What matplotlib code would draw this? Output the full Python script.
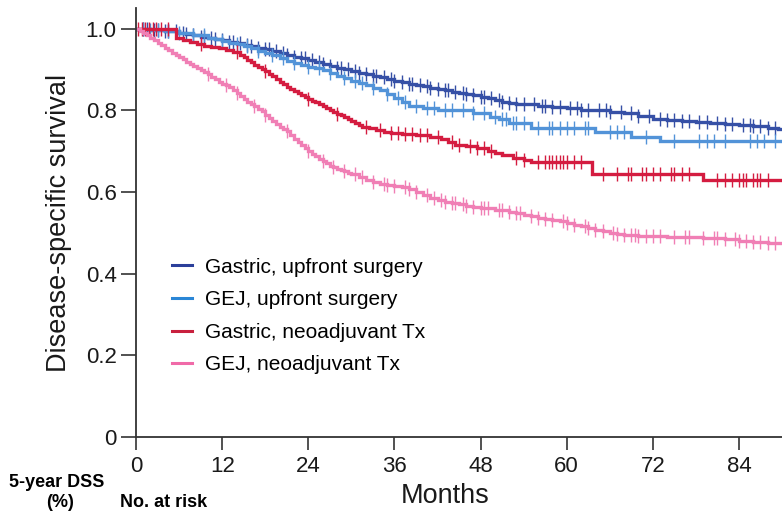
import numpy as np
import matplotlib.pyplot as plt

plt.rcParams['font.family'] = ['Liberation Sans', 'DejaVu Sans']

# step points (months, survival)
gas_up_t = [0, 2, 4, 6, 7, 8, 9, 10, 11, 12, 13, 14, 15, 16, 17, 18, 19, 20, 21, 22,
            23, 24, 25, 26, 27, 28, 29, 30, 31, 32, 33, 34, 35, 36, 37, 38, 39, 40, 41,
            42, 43, 44, 45, 46, 47, 48, 49, 50, 51, 52, 53, 54, 56, 58, 60, 62, 64, 66,
            68, 70, 72, 74, 76, 78, 80, 82, 84, 86, 88, 89.5]
gas_up_s = [1.0, 0.998, 0.995, 0.99, 0.987, 0.984, 0.981, 0.978, 0.975, 0.972, 0.968,
            0.965, 0.961, 0.957, 0.953, 0.95, 0.946, 0.941, 0.936, 0.932, 0.928, 0.924,
            0.92, 0.915, 0.91, 0.905, 0.901, 0.897, 0.893, 0.889, 0.885, 0.881, 0.877,
            0.873, 0.869, 0.866, 0.863, 0.859, 0.855, 0.852, 0.849, 0.846, 0.843, 0.84,
            0.837, 0.834, 0.83, 0.826, 0.822, 0.819, 0.817, 0.815, 0.812, 0.809, 0.806,
            0.802, 0.80, 0.797, 0.793, 0.787, 0.78, 0.777, 0.775, 0.772, 0.77, 0.768,
            0.765, 0.762, 0.758, 0.755]
gas_up_cens = [1, 1.5, 2.5, 3, 4, 4.5, 5.5, 6.5, 7, 8, 9, 9.5, 10.5, 11, 12, 13, 13.5,
               14.5, 15.5, 16, 17, 18, 18.5, 19.5, 20.5, 21, 22, 23, 23.5, 24.5, 25.5,
               26, 27, 28, 28.5, 29.5, 30.5, 31, 32, 33, 33.5, 34.5, 35.5, 36, 37, 38,
               38.5, 39.5, 40.5, 41, 42, 43, 43.5, 44.5, 45.5, 46, 47, 48, 48.5, 49.5,
               50.5, 51, 52, 53, 54, 55.5, 56.5, 57, 58, 59, 60.5, 61.5, 62, 63, 64.5,
               65.5, 66, 67.5, 69, 70, 71.5, 73, 74, 75, 76, 77, 78.5, 79.5, 81, 82, 83,
               84.5, 85.5, 86, 87, 88, 89]

gej_up_t = [0, 2, 4, 6, 8, 10, 11, 12, 13, 14, 15, 16, 17, 18, 19, 20, 21, 22, 23, 24,
            25, 26, 27, 28, 29, 30, 31, 32, 33, 34, 35, 36, 37, 38, 40, 42, 44, 47,
            49.3, 50.5, 52, 55, 64, 69, 73]
gej_up_s = [1.0, 0.998, 0.995, 0.99, 0.985, 0.978, 0.974, 0.97, 0.966, 0.962, 0.957,
            0.952, 0.946, 0.94, 0.935, 0.928, 0.922, 0.917, 0.912, 0.907, 0.903, 0.899,
            0.892, 0.885, 0.879, 0.873, 0.867, 0.862, 0.856, 0.85, 0.84, 0.83, 0.82,
            0.812, 0.806, 0.802, 0.80, 0.794, 0.785, 0.778, 0.77, 0.758, 0.748, 0.735,
            0.726]
gej_up_cens = [1, 2, 3, 4.5, 6, 8, 9.5, 12, 14, 15.5, 17, 19, 20.5, 22, 24, 25.5, 27,
               29, 30.5, 31.5, 33, 35, 36.5, 37.5, 39, 40.5, 41.5, 43, 44, 45.5, 47,
               48.5, 50, 51, 51.5, 52.5, 53, 54, 56, 57.5, 58, 59, 60, 61, 62.5, 63,
               66, 67, 68, 71, 75, 78.5, 79.5, 80.5, 82, 85.5, 86.5, 87.5, 89]

gas_neo_t = [0, 5.5, 6.5, 7.5, 8.5, 9.5, 10.5, 11.5, 12.5, 13.5, 14.5, 15, 15.5, 16,
             16.5, 17, 17.5, 18, 18.5, 19, 19.5, 20, 20.5, 21, 21.5, 22, 22.5, 23, 23.5,
             24, 24.5, 25, 25.5, 26, 26.5, 27, 27.5, 28, 28.5, 29, 29.5, 30, 30.5, 31,
             31.5, 32.5, 33.5, 34.5, 35.5, 37, 39, 41, 42.5, 43.5, 44.5, 46, 47.5, 49,
             50, 51, 52.5, 54, 55, 63.5, 79]
gas_neo_s = [1.0, 0.978, 0.972, 0.967, 0.962, 0.958, 0.955, 0.952, 0.948, 0.943, 0.935,
             0.93, 0.924, 0.918, 0.912, 0.907, 0.902, 0.896, 0.89, 0.884, 0.877, 0.87,
             0.864, 0.858, 0.852, 0.847, 0.843, 0.838, 0.833, 0.829, 0.824, 0.82, 0.815,
             0.81, 0.805, 0.80, 0.796, 0.792, 0.788, 0.784, 0.779, 0.774, 0.769, 0.764,
             0.76, 0.756, 0.752, 0.748, 0.745, 0.742, 0.739, 0.735, 0.73, 0.722, 0.716,
             0.712, 0.707, 0.70, 0.695, 0.69, 0.683, 0.678, 0.673, 0.645, 0.63]
gas_neo_cens = [0.3, 0.8, 1.3, 1.8, 2.3, 2.8, 3.5, 4.5, 9, 14, 18, 24, 28, 32, 34, 35.5,
                36.5, 37.5, 38.5, 39.5, 40.5, 42, 44, 45, 46.5, 47.5, 48.5, 49.5, 53,
                54, 56, 57, 57.5, 58, 58.5, 59, 59.5, 60, 61, 62, 65, 67, 68.5, 69,
                70.5, 71, 72, 73, 74.5, 75, 76, 77, 81, 82, 83, 84, 84.5, 85, 86, 86.5,
                87, 88]

gej_neo_t = [0, 0.5, 1, 1.5, 2, 2.5, 3, 3.5, 4, 4.5, 5, 5.5, 6, 6.5, 7, 7.5, 8, 8.5, 9,
             9.5, 10, 10.5, 11, 11.5, 12, 12.5, 13, 13.5, 14, 14.5, 15, 15.5, 16, 16.5,
             17, 17.5, 18, 18.5, 19, 19.5, 20, 20.5, 21, 21.5, 22, 22.5, 23, 23.5, 24,
             24.5, 25, 25.5, 26, 26.5, 27, 27.5, 28, 28.5, 29, 29.5, 30, 31, 32, 33, 34,
             35, 36, 37, 38, 39, 40, 41, 42, 43, 44, 45, 46, 47, 48, 49, 50, 51, 52, 53,
             54, 55, 56, 57, 58, 59, 60, 61, 62, 63, 64, 65, 66, 67, 68, 70, 74, 79, 82,
             84, 86, 88]
gej_neo_s = [1.0, 0.995, 0.99, 0.984, 0.978, 0.972, 0.965, 0.96, 0.954, 0.947, 0.94,
             0.935, 0.93, 0.925, 0.92, 0.915, 0.91, 0.905, 0.9, 0.895, 0.889, 0.883,
             0.877, 0.871, 0.866, 0.862, 0.857, 0.85, 0.842, 0.835, 0.828, 0.822, 0.815,
             0.81, 0.804, 0.798, 0.79, 0.782, 0.775, 0.767, 0.76, 0.755, 0.75, 0.74,
             0.73, 0.722, 0.715, 0.708, 0.70, 0.694, 0.688, 0.681, 0.676, 0.671, 0.665,
             0.661, 0.657, 0.654, 0.651, 0.648, 0.645, 0.638, 0.63, 0.625, 0.62, 0.617,
             0.614, 0.612, 0.607, 0.60, 0.594, 0.585, 0.58, 0.576, 0.573, 0.57, 0.567,
             0.564, 0.562, 0.56, 0.557, 0.555, 0.551, 0.548, 0.545, 0.541, 0.537, 0.535,
             0.532, 0.529, 0.525, 0.52, 0.516, 0.512, 0.508, 0.505, 0.501, 0.497, 0.494,
             0.492, 0.49, 0.488, 0.485, 0.48, 0.477, 0.475]
gej_neo_cens = [10, 12.5, 14, 16.5, 18, 21, 24, 26, 27.5, 29, 30.5, 31.5, 33, 34.5, 35,
                36, 37.5, 38, 39, 40.5, 41.5, 42.5, 43, 44, 44.5, 45.5, 46, 47, 48, 48.5,
                49, 50.5, 51, 52, 53, 53.5, 55, 56, 57, 58, 59.5, 60, 61, 62.5, 63, 64,
                65, 66.5, 67, 68, 69, 69.5, 70, 71, 72, 73, 75, 76.5, 77, 79, 80.5, 81,
                82, 83.5, 84, 85, 86, 87, 88, 89]

labels = ["Gastric, upfront surgery", "GEJ, upfront surgery",
          "Gastric, neoadjuvant Tx", "GEJ, neoadjuvant Tx"]
colors = ["#3650a6", "#5293d8", "#d41c40", "#f07fb5"]
legend_colors = ["#2b3f9a", "#2a86d6", "#c8203e", "#f06aa8"]

x_max = 90

fig = plt.figure(figsize=(7.82, 5.12), dpi=100)
ax = fig.add_axes([0.174, 0.1465, 0.826, 0.837])

curves = [(gas_up_t, gas_up_s, gas_up_cens),
          (gej_up_t, gej_up_s, gej_up_cens),
          (gas_neo_t, gas_neo_s, gas_neo_cens),
          (gej_neo_t, gej_neo_s, gej_neo_cens)]

for (t, s, cens), col in zip(curves, colors):
    t = np.append(t, x_max)
    s = np.append(s, s[-1])
    ax.step(t, s, where='post', color=col, lw=2.4, solid_joinstyle='miter')
    c = np.array(cens, dtype=float)
    idx = np.searchsorted(t, c, side='right') - 1
    ax.plot(c, s[idx], ls='none', marker='|', ms=10, mew=1.0, color=col)

# legend handles
handles = [plt.Line2D([], [], color=c, lw=2.2) for c in legend_colors]
ax.legend(handles, labels, loc='upper left', bbox_to_anchor=(0.027, 0.462),
          frameon=False, fontsize=15, handlelength=0.95, handletextpad=0.6,
          labelspacing=0.65)

ax.set_xlim(0, x_max)
ax.set_ylim(0, 1.05)
ax.set_xticks(range(0, 85, 12))
ax.set_yticks([0, 0.2, 0.4, 0.6, 0.8, 1.0])
ax.set_yticklabels(["0", "0.2", "0.4", "0.6", "0.8", "1.0"])
ax.tick_params(axis='both', labelsize=16, width=1.2, color='#333333',
               labelcolor='#1a1a1a')
ax.tick_params(axis='x', length=9, pad=5)
ax.tick_params(axis='y', length=11, pad=3)
ax.spines['top'].set_visible(False)
ax.spines['right'].set_visible(False)
for sp in ('left', 'bottom'):
    ax.spines[sp].set_linewidth(1.3)
    ax.spines[sp].set_color('#333333')

ax.set_ylabel("Disease-specific survival", fontsize=19.5, color='#1a1a1a')
ax.yaxis.set_label_coords(-0.099, 0.5)
fig.text(0.569, 0.031, "Months", fontsize=19.5, color='#1a1a1a', ha='center',
         va='center')

fig.text(0.073, 0.057, "5-year DSS", fontsize=13, fontweight='bold', ha='center',
         va='center')
fig.text(0.077, 0.0195, "(%)", fontsize=13, fontweight='bold', ha='center',
         va='center')
fig.text(0.153, 0.0195, "No. at risk", fontsize=13, fontweight='bold', ha='left',
         va='center')

fig.savefig("out.png", dpi=100)
